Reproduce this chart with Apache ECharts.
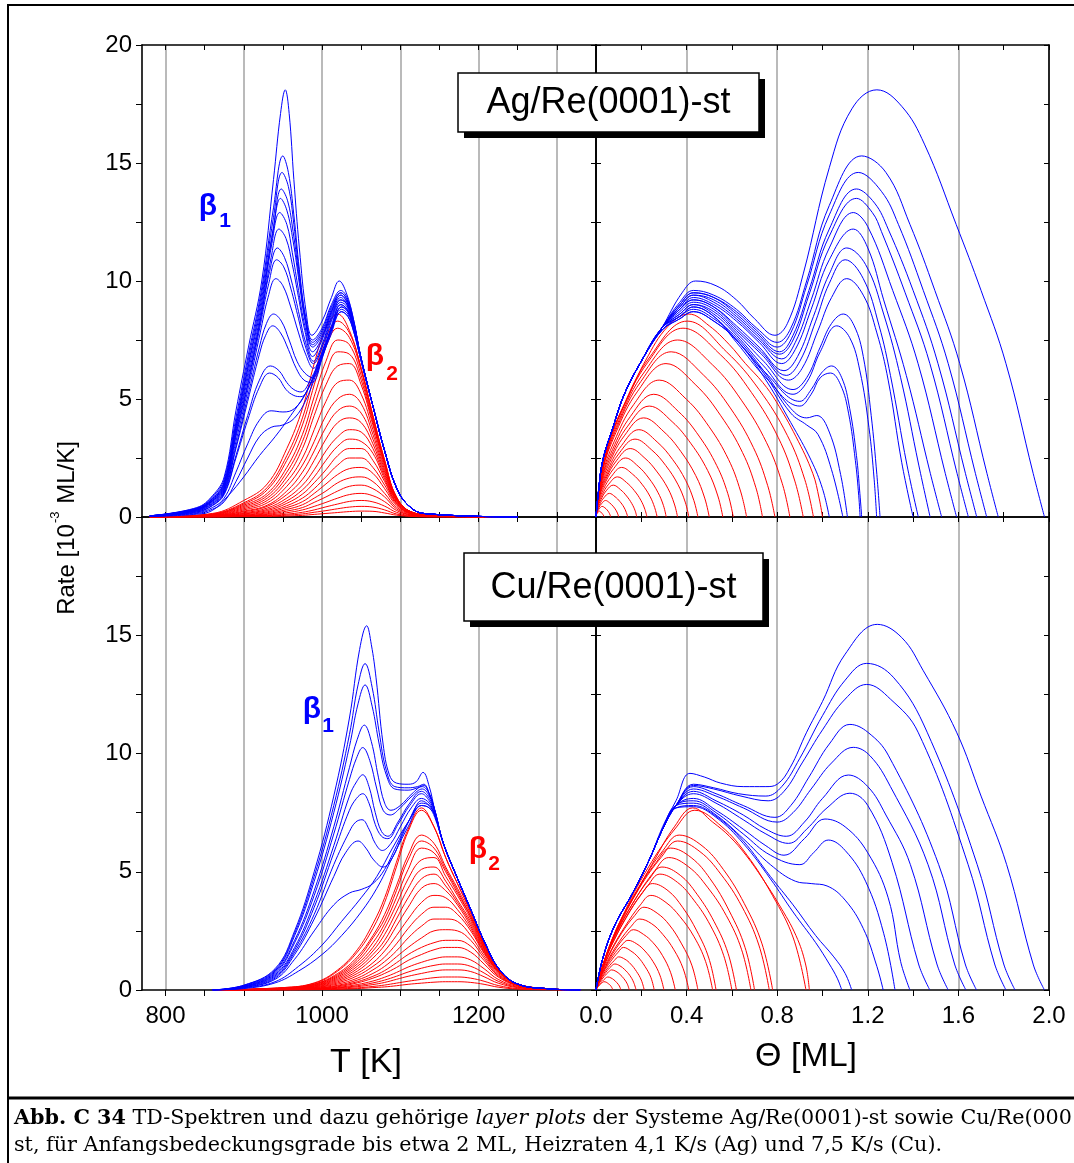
<!DOCTYPE html>
<html><head><meta charset="utf-8">
<script src="https://cdn.jsdelivr.net/npm/echarts@6/dist/echarts.min.js"></script>
<style>html,body{margin:0;padding:0;background:#fff}#c{width:1074px;height:1163px}</style>
</head><body><div id="c"></div>
<script>
// ---------------- tick / label values ----------------
const tempTicks = [800,850,900,950,1000,1050,1100,1150,1200,1250,1300];
const tempLabels = [800,1000,1200];
const tempRange = [770,1350];
const thetaRange = [0,2];
const rateRange = [0,20];

// ---------------- Ag/Re(0001)-st : TD spectra (T [K], rate) ----------------
const agSpecBlue = [
[[780,0.05],[840,0.4],[860,0.9],[875,1.7],[890,4.5],[906,7.2],[923,10.0],[938,14.3],[947,17.1],[953,18.1],[958,17.1],[964,14.3],[971,11.4],[980,8.6],[987,7.7],[1000,8.3],[1012,9.3],[1022,10.0],[1031,9.5],[1040,8.4],[1050,6.7],[1065,4.7],[1080,2.8],[1095,1.25],[1110,0.5],[1130,0.15],[1250,0]],
[[780,0.05],[840,0.38],[860,0.85],[875,1.6],[890,4.2],[906,6.9],[922,9.5],[938,13.1],[950,15.3],[957,14.6],[964,12.8],[971,10.5],[979,8.5],[988,7.5],[1000,8.0],[1012,9.0],[1024,9.6],[1032,9.3],[1040,8.4],[1050,6.7],[1065,4.7],[1080,2.8],[1095,1.25],[1110,0.5],[1130,0.15],[1250,0]],
[[780,0.05],[840,0.36],[860,0.8],[875,1.5],[890,4.0],[906,6.7],[922,9.3],[938,12.7],[949,14.6],[957,14.0],[964,12.4],[971,10.3],[979,8.4],[988,7.4],[1000,7.9],[1012,8.9],[1024,9.5],[1032,9.2],[1040,8.3],[1050,6.7],[1065,4.7],[1080,2.8],[1095,1.25],[1110,0.5],[1130,0.15],[1250,0]],
[[780,0.05],[840,0.35],[860,0.78],[875,1.45],[890,3.9],[906,6.5],[922,9.1],[938,12.3],[948,13.9],[956,13.4],[963,12.1],[971,10.1],[979,8.3],[988,7.3],[1000,7.8],[1012,8.8],[1024,9.5],[1032,9.2],[1040,8.3],[1050,6.7],[1065,4.7],[1080,2.8],[1095,1.25],[1110,0.5],[1130,0.15],[1250,0]],
[[780,0.05],[840,0.34],[860,0.75],[875,1.4],[890,3.8],[906,6.4],[922,8.9],[937,12.0],[947,13.5],[955,13.0],[963,11.7],[971,9.9],[979,8.2],[988,7.2],[1000,7.7],[1012,8.7],[1024,9.4],[1032,9.1],[1040,8.3],[1050,6.7],[1065,4.7],[1080,2.8],[1095,1.25],[1110,0.5],[1130,0.15],[1250,0]],
[[780,0.05],[840,0.33],[860,0.72],[875,1.35],[890,3.7],[906,6.2],[922,8.7],[936,11.6],[946,12.9],[955,12.4],[962,11.2],[970,9.6],[978,8.1],[988,7.0],[1000,7.6],[1012,8.7],[1024,9.4],[1032,9.1],[1040,8.3],[1050,6.7],[1065,4.7],[1080,2.8],[1095,1.25],[1110,0.5],[1130,0.15],[1250,0]],
[[780,0.04],[840,0.32],[860,0.7],[875,1.3],[890,3.6],[906,6.0],[922,8.5],[935,11.0],[945,12.2],[954,11.8],[962,10.7],[970,9.3],[978,7.9],[988,6.8],[1000,7.5],[1012,8.6],[1024,9.3],[1032,9.0],[1040,8.2],[1050,6.7],[1065,4.7],[1080,2.8],[1095,1.25],[1110,0.5],[1130,0.15],[1250,0]],
[[780,0.04],[840,0.3],[860,0.68],[875,1.25],[890,3.5],[906,5.8],[921,8.3],[933,10.4],[943,11.4],[952,11.0],[961,10.0],[970,8.7],[979,7.4],[989,6.6],[1000,7.3],[1012,8.5],[1024,9.2],[1032,9.0],[1040,8.2],[1050,6.7],[1065,4.7],[1080,2.8],[1095,1.25],[1110,0.5],[1130,0.15],[1250,0]],
[[780,0.04],[840,0.3],[860,0.66],[875,1.2],[890,3.4],[906,5.7],[921,8.1],[932,9.9],[942,10.9],[951,10.6],[960,9.7],[970,8.4],[979,7.2],[989,6.5],[1000,7.2],[1012,8.4],[1024,9.2],[1032,9.0],[1040,8.2],[1050,6.7],[1065,4.7],[1080,2.8],[1095,1.25],[1110,0.5],[1130,0.15],[1250,0]],
[[780,0.04],[840,0.28],[860,0.62],[875,1.15],[890,3.2],[906,5.5],[921,7.8],[931,9.3],[941,10.1],[950,9.8],[960,8.9],[970,7.8],[979,6.9],[989,6.3],[1000,7.0],[1012,8.3],[1024,9.1],[1032,8.9],[1040,8.1],[1050,6.7],[1065,4.7],[1080,2.8],[1095,1.25],[1110,0.5],[1130,0.15],[1250,0]],
[[780,0.04],[840,0.26],[860,0.58],[875,1.1],[890,3.0],[905,5.1],[920,7.2],[929,8.2],[938,8.6],[948,8.3],[958,7.5],[968,6.6],[978,6.1],[988,5.9],[1000,6.8],[1012,8.1],[1024,9.0],[1032,8.8],[1040,8.1],[1050,6.7],[1065,4.7],[1080,2.8],[1095,1.25],[1110,0.5],[1130,0.15],[1250,0]],
[[780,0.04],[840,0.25],[860,0.55],[875,1.05],[890,2.9],[905,4.9],[920,6.9],[928,7.7],[937,8.1],[947,7.8],[957,7.1],[967,6.3],[977,5.8],[987,5.7],[1000,6.7],[1012,8.0],[1024,9.0],[1032,8.8],[1040,8.1],[1050,6.7],[1065,4.7],[1080,2.8],[1095,1.25],[1110,0.5],[1130,0.15],[1250,0]],
[[780,0.04],[840,0.22],[860,0.5],[875,1.0],[890,2.6],[905,4.3],[920,5.8],[934,6.4],[945,6.2],[955,5.7],[964,5.4],[973,5.3],[985,5.8],[1000,6.9],[1012,8.0],[1025,8.9],[1033,8.7],[1040,8.0],[1050,6.7],[1065,4.7],[1080,2.8],[1095,1.25],[1110,0.5],[1130,0.15],[1250,0]],
[[780,0.04],[840,0.21],[860,0.48],[875,0.95],[890,2.5],[905,4.1],[920,5.5],[933,6.1],[944,5.9],[954,5.4],[964,5.15],[973,5.1],[985,5.6],[1000,6.8],[1012,7.9],[1025,8.9],[1033,8.7],[1040,8.0],[1050,6.7],[1065,4.7],[1080,2.8],[1095,1.25],[1110,0.5],[1130,0.15],[1250,0]],
[[780,0.03],[840,0.18],[860,0.4],[875,0.8],[890,1.9],[905,3.1],[920,4.1],[935,4.5],[950,4.45],[965,4.6],[980,5.3],[995,6.5],[1010,7.8],[1025,8.8],[1033,8.6],[1040,8.0],[1050,6.6],[1065,4.7],[1080,2.8],[1095,1.25],[1110,0.5],[1130,0.15],[1250,0]],
[[780,0.03],[840,0.15],[860,0.33],[875,0.65],[890,1.5],[905,2.5],[920,3.4],[935,3.8],[950,3.9],[965,4.2],[980,5.0],[995,6.3],[1010,7.7],[1025,8.7],[1033,8.5],[1040,7.9],[1050,6.6],[1065,4.7],[1080,2.8],[1095,1.25],[1110,0.5],[1130,0.15],[1250,0]],
[[780,0.02],[840,0.12],[860,0.28],[880,0.9],[900,1.7],[920,2.6],[940,3.4],[960,4.3],[980,5.3],[995,6.4],[1010,7.6],[1025,8.7],[1033,8.5],[1040,7.9],[1050,6.6],[1065,4.7],[1080,2.8],[1095,1.25],[1110,0.5],[1130,0.15],[1250,0]]
];
const agSpecRedT = [780,860,900,930,955,975,990,1005,1020,1035,1050,1065,1080,1095,1115,1150,1250];
const agSpecRed = [
[0,0.15,0.7,1.4,2.9,4.6,6.5,8.0,8.6,7.9,6.3,4.3,2.4,0.85,0.2,0.05,0],
[0,0.13,0.6,1.25,2.6,4.2,6.0,7.6,8.3,7.8,6.3,4.3,2.4,0.85,0.2,0.05,0],
[0,0.12,0.55,1.15,2.4,3.9,5.6,7.2,8.0,7.6,6.2,4.2,2.35,0.85,0.2,0.05,0],
[0,0.1,0.5,1.0,2.1,3.5,5.1,6.6,7.5,7.3,6.0,4.1,2.3,0.8,0.2,0.05,0],
[0,0.1,0.45,0.9,1.9,3.2,4.7,6.1,7.0,6.9,5.8,4.0,2.25,0.8,0.2,0.05,0],
[0,0.08,0.4,0.8,1.7,2.9,4.3,5.6,6.4,6.5,5.6,3.9,2.2,0.8,0.2,0.05,0],
[0,0.07,0.35,0.7,1.5,2.5,3.7,4.9,5.7,5.8,5.2,3.7,2.1,0.75,0.2,0.05,0],
[0,0.06,0.3,0.6,1.3,2.2,3.2,4.3,5.0,5.2,4.8,3.5,2.0,0.75,0.2,0.05,0],
[0,0.05,0.25,0.5,1.1,1.9,2.8,3.8,4.5,4.7,4.4,3.3,1.9,0.7,0.18,0.04,0],
[0,0.05,0.22,0.45,0.95,1.6,2.4,3.3,4.0,4.2,4.0,3.1,1.8,0.7,0.18,0.04,0],
[0,0.04,0.18,0.38,0.8,1.35,2.0,2.8,3.4,3.7,3.6,2.9,1.7,0.65,0.16,0.04,0],
[0,0.04,0.15,0.32,0.68,1.15,1.7,2.4,3.0,3.3,3.2,2.7,1.6,0.6,0.15,0.03,0],
[0,0.03,0.13,0.27,0.58,0.97,1.45,2.0,2.6,2.9,2.9,2.4,1.5,0.6,0.14,0.03,0],
[0,0.03,0.1,0.22,0.48,0.8,1.2,1.7,2.2,2.5,2.5,2.1,1.35,0.55,0.13,0.03,0],
[0,0.02,0.08,0.18,0.4,0.65,1.0,1.4,1.8,2.05,2.1,1.85,1.2,0.5,0.12,0.03,0],
[0,0.02,0.06,0.14,0.32,0.52,0.8,1.1,1.45,1.65,1.7,1.5,1.0,0.42,0.1,0.02,0],
[0,0.01,0.05,0.11,0.25,0.4,0.62,0.85,1.1,1.3,1.35,1.2,0.85,0.35,0.08,0.02,0],
[0,0.01,0.04,0.08,0.18,0.3,0.45,0.62,0.8,0.95,1.0,0.9,0.65,0.28,0.07,0.01,0],
[0,0,0.03,0.06,0.12,0.2,0.3,0.43,0.55,0.66,0.7,0.64,0.46,0.2,0.05,0.01,0],
[0,0,0.02,0.04,0.08,0.13,0.2,0.27,0.35,0.42,0.45,0.42,0.3,0.13,0.03,0,0],
[0,0,0.01,0.02,0.04,0.07,0.11,0.15,0.19,0.23,0.25,0.24,0.17,0.08,0.02,0,0]
];

// ---------------- Ag/Re(0001)-st : layer plots (Theta [ML], rate) ----------------
const agLayerBlue = [
[[0,0],[0.01,1.0],[0.03,2.4],[0.075,3.8],[0.125,5.2],[0.2,6.6],[0.29,8.0],[0.38,9.5],[0.44,10.0],[0.53,9.8],[0.62,9.2],[0.70,8.4],[0.79,7.7],[0.845,8.2],[0.915,10.3],[1.03,14.8],[1.13,17.3],[1.24,18.1],[1.35,17.4],[1.45,15.8],[1.59,12.4],[1.70,9.6],[1.81,6.5],[1.93,1.85],[1.98,0]],
[[0,0],[0.01,1.0],[0.03,2.4],[0.075,3.8],[0.125,5.2],[0.2,6.6],[0.29,8.0],[0.37,9.1],[0.43,9.6],[0.52,9.4],[0.62,8.8],[0.71,8.0],[0.80,7.4],[0.86,8.0],[0.93,10.0],[1.03,13.2],[1.173,15.3],[1.28,14.6],[1.386,12.4],[1.496,9.6],[1.606,6.5],[1.726,1.85],[1.776,0]],
[[0,0],[0.01,1.0],[0.03,2.4],[0.075,3.8],[0.125,5.2],[0.2,6.6],[0.29,8.0],[0.37,9.0],[0.43,9.5],[0.52,9.3],[0.62,8.7],[0.71,7.9],[0.80,7.2],[0.86,7.8],[0.93,9.8],[1.03,12.8],[1.158,14.6],[1.26,13.8],[1.335,12.4],[1.445,9.6],[1.555,6.5],[1.675,1.85],[1.725,0]],
[[0,0],[0.01,1.0],[0.03,2.4],[0.075,3.8],[0.125,5.2],[0.2,6.6],[0.29,8.0],[0.37,9.0],[0.43,9.5],[0.52,9.3],[0.62,8.6],[0.71,7.8],[0.81,7.0],[0.87,7.7],[0.94,9.6],[1.03,12.2],[1.15,13.9],[1.23,13.3],[1.29,12.2],[1.40,9.6],[1.51,6.5],[1.631,1.85],[1.681,0]],
[[0,0],[0.01,1.0],[0.03,2.4],[0.075,3.8],[0.125,5.2],[0.2,6.6],[0.29,8.0],[0.37,8.9],[0.43,9.4],[0.52,9.2],[0.62,8.5],[0.71,7.7],[0.81,6.9],[0.87,7.5],[0.94,9.4],[1.03,11.9],[1.15,13.5],[1.22,12.9],[1.26,12.1],[1.365,9.5],[1.474,6.5],[1.594,1.85],[1.644,0]],
[[0,0],[0.01,1.0],[0.03,2.4],[0.075,3.8],[0.125,5.2],[0.2,6.6],[0.29,8.0],[0.37,8.9],[0.43,9.4],[0.52,9.1],[0.62,8.4],[0.72,7.5],[0.82,6.7],[0.88,7.4],[0.95,9.2],[1.03,11.4],[1.136,12.9],[1.2,12.3],[1.31,9.6],[1.422,6.5],[1.542,1.85],[1.592,0]],
[[0,0],[0.01,1.0],[0.03,2.4],[0.075,3.8],[0.125,5.2],[0.2,6.6],[0.29,8.0],[0.37,8.8],[0.43,9.3],[0.52,9.0],[0.62,8.3],[0.72,7.4],[0.82,6.5],[0.88,7.1],[0.95,8.8],[1.03,10.9],[1.136,12.2],[1.2,11.4],[1.27,9.2],[1.37,6.0],[1.476,1.85],[1.526,0]],
[[0,0],[0.01,1.0],[0.03,2.4],[0.075,3.8],[0.125,5.2],[0.2,6.6],[0.29,8.0],[0.37,8.8],[0.43,9.2],[0.52,8.9],[0.62,8.1],[0.72,7.2],[0.83,6.2],[0.89,6.8],[0.96,8.5],[1.03,10.3],[1.107,11.4],[1.19,10.7],[1.27,8.6],[1.345,5.9],[1.425,2.2],[1.475,0]],
[[0,0],[0.01,1.0],[0.03,2.4],[0.075,3.8],[0.125,5.2],[0.2,6.6],[0.29,8.0],[0.37,8.8],[0.43,9.2],[0.52,8.9],[0.62,8.0],[0.73,7.0],[0.84,6.0],[0.90,6.6],[0.97,8.3],[1.03,9.9],[1.10,10.9],[1.18,10.1],[1.25,8.1],[1.30,6.0],[1.373,2.2],[1.423,0]],
[[0,0],[0.01,1.0],[0.03,2.4],[0.075,3.8],[0.125,5.2],[0.2,6.6],[0.29,8.0],[0.37,8.7],[0.43,9.1],[0.52,8.8],[0.62,7.9],[0.73,6.9],[0.85,5.8],[0.91,6.3],[0.98,7.9],[1.04,9.3],[1.107,10.1],[1.18,9.4],[1.24,7.8],[1.29,5.8],[1.35,2.3],[1.40,0]],
[[0,0],[0.01,1.0],[0.03,2.4],[0.075,3.8],[0.125,5.2],[0.2,6.6],[0.29,8.0],[0.37,8.6],[0.43,9.0],[0.52,8.7],[0.62,7.8],[0.74,6.6],[0.87,5.4],[0.93,5.9],[0.99,7.2],[1.04,8.2],[1.092,8.6],[1.14,8.1],[1.18,6.8],[1.215,4.3],[1.24,1.8],[1.254,0]],
[[0,0],[0.01,1.0],[0.03,2.4],[0.075,3.8],[0.125,5.2],[0.2,6.6],[0.29,8.0],[0.37,8.6],[0.43,9.0],[0.52,8.6],[0.62,7.7],[0.74,6.4],[0.87,5.2],[0.93,5.7],[0.99,7.0],[1.063,8.1],[1.12,7.6],[1.165,6.2],[1.205,3.8],[1.228,1.6],[1.239,0]],
[[0,0],[0.01,1.0],[0.03,2.4],[0.075,3.8],[0.125,5.2],[0.2,6.6],[0.29,8.0],[0.37,8.5],[0.43,8.9],[0.52,8.5],[0.62,7.5],[0.75,6.1],[0.90,4.9],[0.95,5.4],[0.995,6.1],[1.04,6.4],[1.085,5.9],[1.12,4.6],[1.15,2.6],[1.165,1.0],[1.173,0]],
[[0,0],[0.01,1.0],[0.03,2.4],[0.075,3.8],[0.125,5.2],[0.2,6.6],[0.29,8.0],[0.37,8.5],[0.43,8.9],[0.52,8.5],[0.62,7.4],[0.75,5.9],[0.90,4.7],[0.95,5.2],[0.99,5.9],[1.035,6.1],[1.08,5.6],[1.115,4.4],[1.145,2.4],[1.16,0.9],[1.166,0]],
[[0,0],[0.01,1.0],[0.03,2.4],[0.075,3.8],[0.125,5.2],[0.2,6.6],[0.29,7.9],[0.37,8.5],[0.43,8.8],[0.52,8.4],[0.62,7.6],[0.74,6.2],[0.86,4.6],[0.93,4.2],[0.975,4.3],[1.03,3.6],[1.08,1.8],[1.11,0]],
[[0,0],[0.01,1.0],[0.03,2.4],[0.075,3.8],[0.125,5.2],[0.2,6.6],[0.29,7.9],[0.37,8.4],[0.43,8.7],[0.52,8.3],[0.62,7.5],[0.74,6.1],[0.86,4.4],[0.93,3.9],[0.98,3.5],[1.04,2.0],[1.09,0]],
[[0,0],[0.01,1.0],[0.03,2.4],[0.075,3.8],[0.125,5.2],[0.2,6.6],[0.29,7.9],[0.37,8.4],[0.43,8.7],[0.52,8.3],[0.62,7.5],[0.74,5.95],[0.86,4.0],[0.95,2.4],[1.0,1.2],[1.03,0]]
];
const agLayerRed = [
[[0,0],[0.012,1.0],[0.037,2.4],[0.08,3.8],[0.147,5.2],[0.22,6.65],[0.316,8.06],[0.41,8.6],[0.5,8.1],[0.589,7.3],[0.66,6.5],[0.736,5.7],[0.795,4.9],[0.883,3.4],[0.957,1.85],[0.985,0.8],[1.0,0]],
[[0,0],[0.038,2.49],[0.115,4.57],[0.24,6.81],[0.403,8.3],[0.576,7.0],[0.72,5.4],[0.845,3.45],[0.922,1.58],[0.96,0]],
[[0,0],[0.037,2.4],[0.11,4.4],[0.229,6.56],[0.384,8.0],[0.549,6.88],[0.686,5.28],[0.805,3.36],[0.878,1.52],[0.915,0]],
[[0,0],[0.034,2.25],[0.103,4.13],[0.214,6.15],[0.36,7.5],[0.514,6.45],[0.642,4.95],[0.753,3.15],[0.822,1.43],[0.856,0]],
[[0,0],[0.032,2.1],[0.095,3.85],[0.198,5.74],[0.332,7.0],[0.474,6.02],[0.593,4.62],[0.695,2.94],[0.758,1.33],[0.79,0]],
[[0,0],[0.029,1.95],[0.088,3.58],[0.184,5.33],[0.309,6.5],[0.441,5.59],[0.551,4.29],[0.647,2.73],[0.706,1.24],[0.735,0]],
[[0,0],[0.027,1.74],[0.08,3.19],[0.166,4.76],[0.279,5.8],[0.399,4.99],[0.499,3.83],[0.585,2.44],[0.638,1.1],[0.665,0]],
[[0,0],[0.024,1.56],[0.073,2.86],[0.152,4.26],[0.255,5.2],[0.364,4.47],[0.455,3.43],[0.533,2.18],[0.582,0.99],[0.606,0]],
[[0,0],[0.022,1.41],[0.067,2.59],[0.14,3.85],[0.235,4.7],[0.336,4.04],[0.42,3.1],[0.493,1.97],[0.538,0.89],[0.56,0]],
[[0,0],[0.02,1.26],[0.06,2.31],[0.125,3.44],[0.21,4.2],[0.3,3.61],[0.375,2.77],[0.44,1.76],[0.48,0.8],[0.5,0]],
[[0,0],[0.018,1.11],[0.054,2.04],[0.113,3.03],[0.189,3.7],[0.27,3.18],[0.338,2.44],[0.396,1.55],[0.432,0.7],[0.45,0]],
[[0,0],[0.016,0.99],[0.049,1.82],[0.103,2.71],[0.172,3.3],[0.246,2.84],[0.308,2.18],[0.361,1.39],[0.394,0.63],[0.41,0]],
[[0,0],[0.014,0.87],[0.043,1.6],[0.09,2.38],[0.151,2.9],[0.216,2.49],[0.27,1.91],[0.317,1.22],[0.346,0.55],[0.36,0]],
[[0,0],[0.012,0.75],[0.037,1.38],[0.078,2.05],[0.13,2.5],[0.186,2.15],[0.233,1.65],[0.273,1.05],[0.298,0.48],[0.31,0]],
[[0,0],[0.011,0.63],[0.032,1.16],[0.068,1.72],[0.113,2.1],[0.162,1.81],[0.203,1.39],[0.238,0.88],[0.259,0.4],[0.27,0]],
[[0,0],[0.009,0.51],[0.027,0.94],[0.056,1.39],[0.095,1.7],[0.135,1.46],[0.169,1.12],[0.198,0.71],[0.216,0.32],[0.225,0]],
[[0,0],[0.007,0.41],[0.022,0.74],[0.045,1.11],[0.076,1.35],[0.108,1.16],[0.135,0.89],[0.158,0.57],[0.173,0.26],[0.18,0]],
[[0,0],[0.006,0.3],[0.017,0.55],[0.035,0.82],[0.059,1.0],[0.084,0.86],[0.105,0.66],[0.123,0.42],[0.134,0.19],[0.14,0]],
[[0,0],[0.004,0.21],[0.012,0.39],[0.025,0.57],[0.042,0.7],[0.06,0.6],[0.075,0.46],[0.088,0.29],[0.096,0.13],[0.1,0]],
[[0,0],[0.003,0.14],[0.008,0.25],[0.016,0.37],[0.027,0.45],[0.039,0.39],[0.049,0.3],[0.057,0.19],[0.062,0.09],[0.065,0]],
[[0,0],[0.0015,0.08],[0.004,0.14],[0.009,0.2],[0.015,0.25],[0.021,0.21],[0.026,0.16],[0.031,0.1],[0.034,0.05],[0.035,0]]
];

// ---------------- Cu/Re(0001)-st : TD spectra ----------------
const cuSpecBlue = [
[[860,0],[900,0.2],[940,0.9],[965,2.5],[990,5.0],[1015,8.2],[1035,11.5],[1048,14.4],[1057,15.4],[1063,14.6],[1069,13.2],[1078,10.4],[1086,9.1],[1095,8.75],[1110,8.7],[1120,8.8],[1129,9.2],[1137,8.6],[1144,7.6],[1155,6.2],[1172,4.8],[1190,3.4],[1208,2.0],[1227,0.85],[1250,0.25],[1290,0.05],[1330,0]],
[[860,0],[900,0.2],[940,0.85],[965,2.4],[990,4.8],[1015,7.8],[1035,10.8],[1046,12.9],[1055,13.8],[1064,12.8],[1073,10.9],[1082,9.3],[1093,8.6],[1110,8.55],[1122,8.6],[1130,8.7],[1137,8.3],[1144,7.6],[1155,6.2],[1172,4.8],[1190,3.4],[1208,2.0],[1227,0.85],[1250,0.25],[1290,0.05],[1330,0]],
[[860,0],[900,0.18],[940,0.8],[965,2.3],[990,4.6],[1015,7.5],[1035,10.3],[1046,12.1],[1055,12.9],[1064,12.0],[1073,10.4],[1082,9.1],[1093,8.5],[1110,8.45],[1122,8.55],[1130,8.65],[1137,8.3],[1144,7.6],[1155,6.2],[1172,4.8],[1190,3.4],[1208,2.0],[1227,0.85],[1250,0.25],[1290,0.05],[1330,0]],
[[860,0],[900,0.16],[940,0.75],[965,2.1],[990,4.2],[1015,6.9],[1035,9.4],[1045,10.6],[1054,11.2],[1063,10.5],[1072,9.0],[1080,7.9],[1088,7.6],[1100,7.8],[1115,8.3],[1128,8.6],[1137,8.3],[1144,7.6],[1155,6.2],[1172,4.8],[1190,3.4],[1208,2.0],[1227,0.85],[1250,0.25],[1290,0.05],[1330,0]],
[[860,0],[900,0.15],[940,0.7],[965,2.0],[990,4.0],[1015,6.6],[1035,8.9],[1044,9.8],[1052,10.25],[1061,9.7],[1070,8.5],[1078,7.6],[1087,7.4],[1100,7.7],[1115,8.2],[1128,8.5],[1137,8.2],[1144,7.6],[1155,6.2],[1172,4.8],[1190,3.4],[1208,2.0],[1227,0.85],[1250,0.25],[1290,0.05],[1330,0]],
[[860,0],[900,0.14],[940,0.65],[965,1.8],[990,3.7],[1015,6.1],[1035,8.2],[1044,8.8],[1052,9.1],[1060,8.6],[1068,7.5],[1076,6.7],[1084,6.5],[1097,7.1],[1112,7.9],[1127,8.4],[1137,8.1],[1144,7.5],[1155,6.2],[1172,4.8],[1190,3.4],[1208,2.0],[1227,0.85],[1250,0.25],[1290,0.05],[1330,0]],
[[860,0],[900,0.13],[940,0.6],[965,1.7],[990,3.5],[1015,5.8],[1035,7.6],[1044,8.1],[1052,8.3],[1060,7.9],[1068,7.0],[1076,6.5],[1084,6.4],[1097,7.0],[1112,7.8],[1127,8.3],[1137,8.0],[1144,7.5],[1155,6.2],[1172,4.8],[1190,3.4],[1208,2.0],[1227,0.85],[1250,0.25],[1290,0.05],[1330,0]],
[[860,0],[900,0.12],[940,0.55],[965,1.6],[990,3.2],[1015,5.3],[1035,6.7],[1043,7.1],[1051,7.2],[1060,6.8],[1068,6.2],[1077,5.9],[1088,6.2],[1100,6.9],[1114,7.7],[1127,8.1],[1137,7.9],[1144,7.4],[1155,6.2],[1172,4.8],[1190,3.4],[1208,2.0],[1227,0.85],[1250,0.25],[1290,0.05],[1330,0]],
[[860,0],[900,0.1],[940,0.5],[965,1.5],[990,3.0],[1015,4.8],[1030,5.8],[1046,6.3],[1056,6.0],[1066,5.5],[1078,5.2],[1090,5.6],[1102,6.5],[1115,7.4],[1127,8.0],[1137,7.8],[1144,7.4],[1155,6.2],[1172,4.8],[1190,3.4],[1208,2.0],[1227,0.85],[1250,0.25],[1290,0.05],[1330,0]],
[[860,0],[900,0.1],[940,0.45],[965,1.3],[990,2.5],[1015,3.6],[1035,4.1],[1050,4.25],[1065,4.5],[1080,5.1],[1095,6.1],[1110,7.1],[1127,7.9],[1137,7.8],[1144,7.4],[1155,6.2],[1172,4.8],[1190,3.4],[1208,2.0],[1227,0.85],[1250,0.25],[1290,0.05],[1330,0]],
[[860,0],[900,0.08],[940,0.35],[970,1.0],[1000,1.9],[1025,2.9],[1050,3.9],[1070,4.8],[1090,6.0],[1110,7.1],[1127,7.8],[1137,7.7],[1144,7.4],[1155,6.2],[1172,4.8],[1190,3.4],[1208,2.0],[1227,0.85],[1250,0.25],[1290,0.05],[1330,0]],
[[860,0],[900,0.06],[940,0.3],[970,0.8],[1000,1.5],[1025,2.3],[1050,3.3],[1070,4.3],[1090,5.6],[1110,6.9],[1127,7.8],[1137,7.7],[1144,7.3],[1155,6.2],[1172,4.8],[1190,3.4],[1208,2.0],[1227,0.85],[1250,0.25],[1290,0.05],[1330,0]]
];
const cuSpecRedT = [860,950,990,1020,1045,1065,1080,1095,1110,1127,1143,1158,1173,1190,1207,1225,1250,1290,1330];
const cuSpecRed = [
[0,0.1,0.3,0.85,1.7,2.8,3.9,5.4,6.8,7.7,6.9,5.6,4.5,3.3,1.95,0.9,0.25,0.05,0],
[0,0.1,0.28,0.8,1.6,2.6,3.7,5.2,6.7,7.6,6.9,5.6,4.5,3.3,1.95,0.9,0.25,0.05,0],
[0,0.08,0.25,0.7,1.4,2.3,3.2,4.4,5.7,6.55,6.2,5.2,4.3,3.2,1.9,0.9,0.25,0.05,0],
[0,0.08,0.24,0.65,1.3,2.2,3.0,4.2,5.5,6.3,6.0,5.1,4.2,3.1,1.9,0.9,0.25,0.05,0],
[0,0.07,0.22,0.6,1.2,2.0,2.8,3.9,5.1,6.0,5.8,5.0,4.1,3.1,1.85,0.85,0.25,0.05,0],
[0,0.07,0.2,0.55,1.1,1.8,2.6,3.6,4.7,5.5,5.6,4.8,4.0,3.0,1.8,0.85,0.25,0.05,0],
[0,0.06,0.18,0.5,1.0,1.65,2.35,3.3,4.3,5.1,5.2,4.6,3.8,2.9,1.75,0.85,0.25,0.05,0],
[0,0.06,0.17,0.45,0.9,1.5,2.1,3.0,3.9,4.7,4.9,4.4,3.7,2.8,1.7,0.8,0.25,0.05,0],
[0,0.05,0.15,0.4,0.8,1.35,1.9,2.7,3.5,4.3,4.5,4.2,3.6,2.7,1.65,0.8,0.25,0.05,0],
[0,0.05,0.13,0.35,0.7,1.15,1.65,2.3,3.0,3.7,4.0,3.9,3.4,2.6,1.6,0.8,0.25,0.05,0],
[0,0.04,0.11,0.3,0.6,1.0,1.4,1.95,2.6,3.2,3.5,3.5,3.2,2.5,1.55,0.75,0.25,0.05,0],
[0,0.03,0.1,0.25,0.5,0.85,1.2,1.65,2.2,2.7,3.0,3.0,2.9,2.3,1.45,0.7,0.22,0.05,0],
[0,0.03,0.08,0.2,0.42,0.7,1.0,1.4,1.8,2.2,2.5,2.55,2.5,2.1,1.35,0.65,0.2,0.04,0],
[0,0.02,0.07,0.17,0.35,0.58,0.82,1.15,1.5,1.8,2.0,2.1,2.1,1.85,1.25,0.6,0.2,0.04,0],
[0,0.02,0.06,0.14,0.3,0.5,0.7,0.95,1.25,1.5,1.7,1.8,1.8,1.6,1.1,0.55,0.18,0.04,0],
[0,0.02,0.05,0.11,0.23,0.38,0.54,0.74,0.97,1.17,1.32,1.4,1.4,1.27,0.9,0.45,0.15,0.03,0],
[0,0.01,0.04,0.09,0.18,0.3,0.42,0.58,0.76,0.92,1.04,1.1,1.1,1.0,0.72,0.37,0.12,0.03,0],
[0,0.01,0.03,0.07,0.14,0.23,0.32,0.45,0.58,0.7,0.8,0.85,0.85,0.78,0.56,0.29,0.1,0.02,0],
[0,0.01,0.02,0.04,0.09,0.15,0.21,0.29,0.37,0.45,0.52,0.55,0.55,0.5,0.37,0.19,0.06,0.01,0],
[0,0,0.01,0.03,0.06,0.1,0.13,0.18,0.24,0.29,0.33,0.35,0.35,0.32,0.24,0.12,0.04,0.01,0]
];

// ---------------- Cu/Re(0001)-st : layer plots ----------------
const cuLayerBlue = [
[[0,0],[0.029,1.3],[0.081,2.7],[0.162,4.1],[0.235,5.5],[0.294,6.9],[0.353,8.0],[0.415,9.16],[0.48,9.0],[0.55,8.75],[0.65,8.6],[0.75,8.6],[0.8,8.7],[0.857,9.4],[0.93,10.9],[1.0,12.2],[1.1,14.2],[1.242,15.46],[1.35,14.9],[1.445,13.5],[1.592,10.9],[1.7,8.2],[1.813,5.3],[1.931,1.06],[1.98,0]],
[[0,0],[0.029,1.3],[0.081,2.7],[0.162,4.1],[0.235,5.5],[0.294,6.8],[0.353,7.8],[0.43,8.7],[0.52,8.55],[0.63,8.3],[0.75,8.2],[0.82,8.6],[0.9,9.8],[1.0,11.6],[1.1,13.1],[1.195,13.81],[1.315,13.2],[1.462,10.9],[1.683,5.3],[1.80,1.1],[1.85,0]],
[[0,0],[0.029,1.3],[0.081,2.7],[0.162,4.1],[0.235,5.5],[0.294,6.8],[0.353,7.8],[0.43,8.65],[0.52,8.5],[0.64,8.2],[0.76,8.0],[0.83,8.4],[0.91,9.6],[1.0,11.0],[1.1,12.3],[1.195,12.92],[1.3,12.3],[1.422,10.9],[1.643,5.3],[1.76,1.1],[1.81,0]],
[[0,0],[0.029,1.3],[0.081,2.7],[0.162,4.1],[0.235,5.5],[0.294,6.8],[0.353,7.8],[0.43,8.6],[0.53,8.3],[0.65,7.8],[0.79,7.3],[0.86,7.8],[0.94,9.0],[1.03,10.4],[1.121,11.23],[1.2,10.9],[1.292,9.9],[1.513,5.3],[1.63,1.1],[1.68,0]],
[[0,0],[0.029,1.3],[0.081,2.7],[0.162,4.1],[0.235,5.5],[0.294,6.8],[0.353,7.8],[0.43,8.5],[0.53,8.2],[0.65,7.7],[0.80,7.1],[0.87,7.5],[0.95,8.5],[1.04,9.6],[1.136,10.26],[1.21,9.9],[1.3,8.6],[1.466,5.3],[1.583,1.1],[1.633,0]],
[[0,0],[0.029,1.3],[0.081,2.7],[0.162,4.1],[0.235,5.5],[0.294,6.8],[0.353,7.8],[0.43,8.4],[0.53,8.0],[0.65,7.4],[0.75,6.8],[0.84,6.5],[0.92,7.1],[1.0,8.1],[1.114,9.09],[1.2,8.6],[1.28,7.4],[1.388,5.3],[1.505,1.1],[1.555,0]],
[[0,0],[0.029,1.3],[0.081,2.7],[0.162,4.1],[0.235,5.5],[0.294,6.8],[0.353,7.8],[0.43,8.3],[0.53,7.9],[0.65,7.2],[0.75,6.6],[0.85,6.2],[0.93,6.8],[1.02,7.7],[1.121,8.32],[1.2,7.8],[1.307,5.4],[1.424,1.1],[1.474,0]],
[[0,0],[0.029,1.3],[0.081,2.7],[0.162,4.1],[0.235,5.5],[0.294,6.8],[0.353,7.8],[0.43,8.1],[0.53,7.6],[0.65,6.8],[0.75,6.1],[0.83,5.7],[0.92,6.4],[1.011,7.23],[1.1,6.9],[1.2,5.8],[1.29,3.9],[1.345,1.2],[1.386,0]],
[[0,0],[0.029,1.3],[0.081,2.7],[0.162,4.1],[0.235,5.5],[0.294,6.8],[0.353,7.8],[0.43,8.0],[0.53,7.5],[0.65,6.6],[0.77,5.7],[0.9,5.3],[0.96,5.8],[1.026,6.34],[1.1,5.9],[1.19,4.6],[1.27,2.4],[1.32,0]],
[[0,0],[0.029,1.3],[0.081,2.7],[0.162,4.1],[0.235,5.5],[0.294,6.8],[0.353,7.8],[0.43,7.9],[0.53,7.4],[0.65,6.4],[0.77,5.3],[0.88,4.6],[0.95,4.5],[1.02,4.4],[1.1,3.8],[1.18,2.6],[1.24,1.0],[1.268,0]],
[[0,0],[0.029,1.3],[0.081,2.7],[0.162,4.1],[0.235,5.5],[0.294,6.8],[0.353,7.7],[0.43,7.8],[0.53,7.35],[0.65,6.3],[0.77,4.8],[0.87,3.6],[0.97,2.3],[1.05,1.4],[1.1,0.7],[1.129,0]],
[[0,0],[0.029,1.3],[0.081,2.7],[0.162,4.1],[0.235,5.5],[0.294,6.8],[0.353,7.7],[0.43,7.75],[0.53,7.3],[0.65,6.2],[0.77,4.7],[0.87,3.3],[0.97,2.0],[1.03,1.1],[1.065,0.5],[1.085,0]]
];
const cuLayerRed = [
[[0,0],[0.02,0.6],[0.05,1.5],[0.096,2.7],[0.177,4.1],[0.258,5.5],[0.346,6.9],[0.427,7.7],[0.515,7.1],[0.589,6.5],[0.662,5.7],[0.736,4.7],[0.809,3.6],[0.883,2.3],[0.925,1.1],[0.942,0]],
[[0,0],[0.046,1.5],[0.111,3.0],[0.232,5.2],[0.352,6.85],[0.436,7.6],[0.556,6.9],[0.667,5.7],[0.779,4.0],[0.871,2.2],[0.927,0]],
[[0,0],[0.039,1.3],[0.094,2.6],[0.195,4.45],[0.296,5.9],[0.367,6.55],[0.468,6.1],[0.562,5.1],[0.655,3.65],[0.733,1.95],[0.78,0]],
[[0,0],[0.038,1.25],[0.092,2.5],[0.191,4.3],[0.291,5.65],[0.36,6.3],[0.459,5.85],[0.551,4.9],[0.643,3.55],[0.719,1.9],[0.765,0]],
[[0,0],[0.035,1.2],[0.084,2.4],[0.175,4.1],[0.266,5.4],[0.329,6.0],[0.42,5.6],[0.504,4.7],[0.588,3.35],[0.658,1.8],[0.70,0]],
[[0,0],[0.034,1.1],[0.082,2.25],[0.171,3.8],[0.26,5.05],[0.321,5.6],[0.41,5.2],[0.492,4.35],[0.575,3.15],[0.643,1.7],[0.684,0]],
[[0,0],[0.031,1.05],[0.074,2.1],[0.155,3.55],[0.236,4.7],[0.291,5.2],[0.372,4.85],[0.446,4.05],[0.521,2.9],[0.583,1.55],[0.62,0]],
[[0,0],[0.03,1.0],[0.072,1.95],[0.15,3.35],[0.228,4.4],[0.282,4.9],[0.36,4.55],[0.432,3.8],[0.504,2.75],[0.564,1.45],[0.60,0]],
[[0,0],[0.027,0.9],[0.064,1.8],[0.133,3.05],[0.201,4.05],[0.249,4.5],[0.318,4.2],[0.382,3.5],[0.445,2.5],[0.498,1.35],[0.53,0]],
[[0,0],[0.026,0.8],[0.062,1.6],[0.129,2.7],[0.196,3.6],[0.242,4.0],[0.309,3.7],[0.371,3.1],[0.433,2.25],[0.484,1.2],[0.515,0]],
[[0,0],[0.023,0.7],[0.054,1.4],[0.113,2.4],[0.171,3.15],[0.212,3.5],[0.27,3.25],[0.324,2.75],[0.378,1.95],[0.423,1.05],[0.45,0]],
[[0,0],[0.021,0.6],[0.049,1.2],[0.103,2.05],[0.156,2.7],[0.193,3.0],[0.246,2.8],[0.295,2.35],[0.344,1.7],[0.385,0.9],[0.41,0]],
[[0,0],[0.018,0.5],[0.042,1.0],[0.088,1.75],[0.133,2.3],[0.165,2.55],[0.21,2.35],[0.252,2.0],[0.294,1.45],[0.329,0.75],[0.35,0]],
[[0,0],[0.015,0.42],[0.036,0.85],[0.075,1.45],[0.114,1.9],[0.141,2.1],[0.18,1.95],[0.216,1.65],[0.252,1.2],[0.282,0.63],[0.30,0]],
[[0,0],[0.013,0.36],[0.031,0.72],[0.064,1.2],[0.098,1.6],[0.121,1.8],[0.154,1.65],[0.185,1.4],[0.216,1.0],[0.242,0.54],[0.257,0]],
[[0,0],[0.011,0.28],[0.026,0.56],[0.053,0.95],[0.081,1.25],[0.1,1.4],[0.128,1.3],[0.153,1.1],[0.179,0.78],[0.2,0.42],[0.213,0]],
[[0,0],[0.009,0.22],[0.021,0.44],[0.044,0.75],[0.067,1.0],[0.083,1.1],[0.106,1.02],[0.127,0.86],[0.149,0.62],[0.166,0.33],[0.177,0]],
[[0,0],[0.007,0.17],[0.018,0.34],[0.037,0.58],[0.056,0.77],[0.069,0.85],[0.088,0.79],[0.106,0.66],[0.123,0.48],[0.138,0.26],[0.147,0]],
[[0,0],[0.006,0.11],[0.013,0.22],[0.028,0.37],[0.042,0.5],[0.052,0.55],[0.066,0.51],[0.079,0.43],[0.092,0.31],[0.103,0.17],[0.11,0]],
[[0,0],[0.004,0.07],[0.009,0.14],[0.019,0.24],[0.029,0.32],[0.035,0.35],[0.045,0.33],[0.054,0.27],[0.063,0.2],[0.07,0.1],[0.075,0]]
];

// ---------------- chart ----------------
const BLUE = '#0000ff', RED = '#ff0000', GRIDC = '#a3a3a3';
const SANS = "'Liberation Sans', Arial, Helvetica, sans-serif";
const SERIF = "'DejaVu Serif', 'Liberation Serif', serif";

const chart = echarts.init(document.getElementById('c'), null, {renderer: 'canvas'});

const grids = [
  {left: 142, top: 45, width: 454, height: 472},
  {left: 596, top: 45, width: 453, height: 472},
  {left: 142, top: 517, width: 454, height: 473},
  {left: 596, top: 517, width: 453, height: 473}
];
const axLine = {show: true, onZero: false, lineStyle: {color: '#000', width: 1.6}};
const tickStyle = {color: '#000', width: 1};

function tempAxis(gi, pos, opts) {
  return Object.assign({
    gridIndex: gi, type: 'value', position: pos, min: tempRange[0], max: tempRange[1],
    axisLine: axLine,
    axisTick: {show: true, inside: true, length: 5, customValues: tempTicks, lineStyle: tickStyle},
    axisLabel: {show: false},
    splitLine: {show: false}
  }, opts || {});
}
function thetaAxis(gi, pos, opts) {
  return Object.assign({
    gridIndex: gi, type: 'value', position: pos, min: thetaRange[0], max: thetaRange[1], interval: 0.2,
    axisLine: axLine,
    axisTick: {show: true, inside: true, length: 5, lineStyle: tickStyle},
    axisLabel: {show: false},
    splitLine: {show: false}
  }, opts || {});
}
function rateAxis(gi, pos, opts) {
  return Object.assign({
    gridIndex: gi, type: 'value', position: pos, min: rateRange[0], max: rateRange[1], interval: 2.5,
    axisLine: axLine,
    axisTick: {show: true, inside: true, length: 5, lineStyle: tickStyle},
    axisLabel: {show: false},
    splitLine: {show: false}
  }, opts || {});
}
const splitAlt = {show: true, lineStyle: {color: [GRIDC, 'rgba(0,0,0,0)'], width: 1.5}};
const labelFont = {color: '#000', fontSize: 24, fontFamily: SANS};

const xAxis = [
  tempAxis(0, 'bottom', {splitLine: splitAlt}),
  tempAxis(0, 'top'),
  thetaAxis(1, 'bottom', {splitLine: splitAlt}),
  thetaAxis(1, 'top'),
  tempAxis(2, 'bottom', {
    splitLine: splitAlt,
    axisTick: {show: true, inside: false, length: 6, customValues: tempTicks, lineStyle: tickStyle},
    axisLabel: Object.assign({show: true, margin: 14, customValues: tempLabels,
      formatter: v => String(Math.round(v))}, labelFont)
  }),
  tempAxis(2, 'top'),
  thetaAxis(3, 'bottom', {
    splitLine: splitAlt,
    axisTick: {show: true, inside: false, length: 6, lineStyle: tickStyle},
    axisLabel: Object.assign({show: true, margin: 14, showMinLabel: true, showMaxLabel: true,
      formatter: v => (Math.round(v * 10) % 4 === 0 ? v.toFixed(1) : '')}, labelFont)
  }),
  thetaAxis(3, 'top')
];
const yAxis = [
  rateAxis(0, 'left', {
    axisTick: {show: true, inside: false, length: 6, lineStyle: tickStyle},
    axisLabel: Object.assign({show: true, margin: 10, showMinLabel: true, showMaxLabel: true,
      formatter: v => (v % 5 === 0 ? String(v) : '')}, labelFont)
  }),
  rateAxis(0, 'right'),
  rateAxis(1, 'left'),
  rateAxis(1, 'right'),
  rateAxis(2, 'left', {
    axisTick: {show: true, inside: false, length: 6, lineStyle: tickStyle},
    axisLabel: Object.assign({show: true, margin: 10, showMinLabel: true, showMaxLabel: false,
      formatter: v => (v % 5 === 0 && v < 20 ? String(v) : '')}, labelFont)
  }),
  rateAxis(2, 'right'),
  rateAxis(3, 'left'),
  rateAxis(3, 'right')
];

function line(data, color, axisIdx, z) {
  return {
    type: 'line', data: data, xAxisIndex: axisIdx, yAxisIndex: axisIdx,
    showSymbol: false, symbol: 'none', smooth: 0.4,
    lineStyle: {color: color, width: 1}, silent: true, animation: false, z: z
  };
}
const series = [];
agSpecRed.forEach(v => series.push(line(agSpecRedT.map((t, i) => [t, v[i]]), RED, 0, 2)));
agSpecBlue.forEach(c => series.push(line(c, BLUE, 0, 3)));
agLayerRed.forEach(c => series.push(line(c, RED, 2, 2)));
agLayerBlue.forEach(c => series.push(line(c, BLUE, 2, 3)));
cuSpecRed.forEach(v => series.push(line(cuSpecRedT.map((t, i) => [t, v[i]]), RED, 4, 2)));
cuSpecBlue.forEach(c => series.push(line(c, BLUE, 4, 3)));
cuLayerRed.forEach(c => series.push(line(c, RED, 6, 2)));
cuLayerBlue.forEach(c => series.push(line(c, BLUE, 6, 3)));

const cap1 = 'TD-Spektren und dazu gehörige ';
const cap2 = ' der Systeme Ag/Re(0001)-st sowie Cu/Re(0001)-';
const cap3 = 'st, für Anfangsbedeckungsgrade bis etwa 2 ML, Heizraten 4,1 K/s (Ag) und 7,5 K/s (Cu).';
// caption font size chosen so the second caption line spans the same width as in the figure
const mctx = document.createElement('canvas').getContext('2d');
mctx.font = '20px ' + SERIF;
let CAP_FS = 20 * 929 / mctx.measureText(cap3).width;
CAP_FS = Math.max(17, Math.min(22, CAP_FS));

function txt(x, y, text, font, fill, align, valign, extra) {
  return Object.assign({
    type: 'text', x: x, y: y, z: 100,
    style: {text: text, font: font, fill: fill, align: align, verticalAlign: valign,
            textAlign: align, textVerticalAlign: valign}
  }, extra || {});
}
function box(x, y, w, h, label) {
  return [
    {type: 'rect', z: 98, shape: {x: x + 6, y: y + 6, width: w, height: h}, style: {fill: '#000'}},
    {type: 'rect', z: 99, shape: {x: x, y: y, width: w, height: h}, style: {fill: '#fff', stroke: '#000', lineWidth: 1.5}},
    txt(x + w / 2, y + h / 2 + 1, label, '36px ' + SANS, '#000', 'center', 'middle')
  ];
}

const capRich = {
  n: {fontSize: CAP_FS, fontFamily: SERIF, lineHeight: 27, fill: '#000'},
  b: {fontWeight: 'bold', fontSize: CAP_FS, fontFamily: SERIF, lineHeight: 27, fill: '#000'},
  i: {fontStyle: 'italic', fontSize: CAP_FS, fontFamily: SERIF, lineHeight: 27, fill: '#000'}
};

const graphic = [
  {type: 'rect', z: 90, shape: {x: 8, y: 5, width: 1100, height: 1200}, style: {fill: 'none', stroke: '#000', lineWidth: 2}},
  {type: 'line', z: 90, shape: {x1: 8, y1: 1098, x2: 1074, y2: 1098}, style: {stroke: '#000', lineWidth: 3}},
  ...box(458, 73, 301, 59, 'Ag/Re(0001)-st'),
  ...box(464, 553, 299, 68, 'Cu/Re(0001)-st'),
  txt(208, 207, 'β', 'bold 30px ' + SANS, BLUE, 'center', 'middle'),
  txt(225, 221, '1', 'bold 21px ' + SANS, BLUE, 'center', 'middle'),
  txt(375, 357, 'β', 'bold 30px ' + SANS, RED, 'center', 'middle'),
  txt(392, 374, '2', 'bold 21px ' + SANS, RED, 'center', 'middle'),
  txt(312, 710, 'β', 'bold 30px ' + SANS, BLUE, 'center', 'middle'),
  txt(328, 726, '1', 'bold 21px ' + SANS, BLUE, 'center', 'middle'),
  txt(478, 850, 'β', 'bold 30px ' + SANS, RED, 'center', 'middle'),
  txt(494, 864, '2', 'bold 21px ' + SANS, RED, 'center', 'middle'),
  txt(366, 1063, 'T [K]', '34px ' + SANS, '#000', 'center', 'middle'),
  txt(806, 1057, 'Θ [ML]', '34px ' + SANS, '#000', 'center', 'middle'),
  {
    type: 'text', x: 64, y: 528, rotation: Math.PI / 2, z: 100,
    style: {
      text: '{a|Rate [10}{s|-3}{a| ML/K]}', fill: '#000',
      align: 'center', verticalAlign: 'middle', textAlign: 'center', textVerticalAlign: 'middle',
      rich: {
        a: {fontSize: 24, fontFamily: SANS, lineHeight: 30, verticalAlign: 'bottom'},
        s: {fontSize: 13, fontFamily: SANS, lineHeight: 30, verticalAlign: 'top', padding: [0, 1, 0, 1]}
      }
    }
  },
  {
    type: 'text', x: 14, y: 1105, z: 100,
    style: {
      text: '{b|Abb. C 34}{n| ' + cap1 + '}{i|layer plots}{n|' + cap2 + '}\n{n|' + cap3 + '}',
      fontSize: CAP_FS, fontFamily: SERIF, fill: '#000', lineHeight: 27,
      align: 'left', verticalAlign: 'top', textAlign: 'left', textVerticalAlign: 'top',
      rich: capRich
    }
  }
];

chart.setOption({
  animation: false,
  backgroundColor: '#fff',
  grid: grids,
  xAxis: xAxis,
  yAxis: yAxis,
  series: series,
  graphic: graphic
});
</script>
</body></html>
